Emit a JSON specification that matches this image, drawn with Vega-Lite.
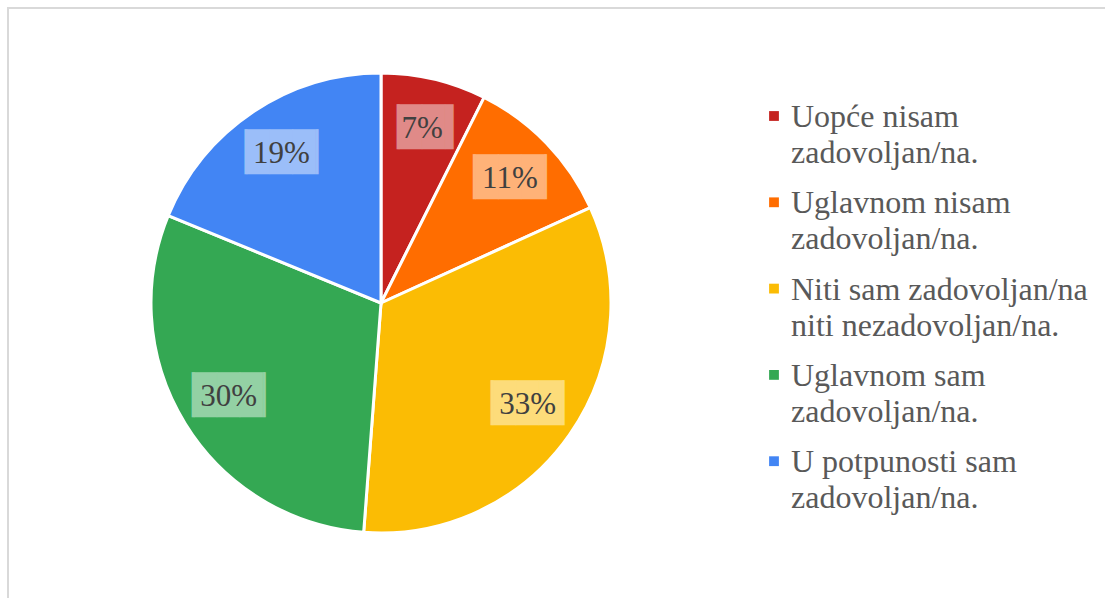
{
  "$schema": "https://vega.github.io/schema/vega-lite/v6.json",
  "width": 746,
  "height": 590,
  "autosize": "none",
  "padding": {"left": 8, "top": 8, "right": 351, "bottom": 1},
  "background": "white",
  "view": {"stroke": "#D9D9D9", "strokeWidth": 2, "strokeDash": [746, 1336, 590]},
  "config": {
    "view": {"stroke": "#D9D9D9", "strokeWidth": 2, "strokeDash": [746, 1336, 590]},
    "legend": {"strokeColor": "#D9D9D9", "strokeWidth": 2, "strokeDash": [600, 5000]},
    "style": {"guide-label": {"lineHeight": 36, "dy": 11}}
  },
  "data": {
    "values": [
      {"category": "Uopće nisam zadovoljan/na.", "share": 0.074},
      {"category": "Uglavnom nisam zadovoljan/na.", "share": 0.108},
      {"category": "Niti sam zadovoljan/na niti nezadovoljan/na.", "share": 0.330},
      {"category": "Uglavnom sam zadovoljan/na.", "share": 0.300},
      {"category": "U potpunosti sam zadovoljan/na.", "share": 0.188}
    ]
  },
  "transform": [{"window": [{"op": "row_number", "as": "rank"}]}],
  "resolve": {"scale": {"color": "independent"}},
  "layer": [
    {
      "mark": {"type": "arc", "outerRadius": 230, "stroke": "white", "strokeWidth": 3},
      "encoding": {
        "theta": {"field": "share", "type": "quantitative", "stack": true},
        "order": {"field": "rank", "type": "quantitative", "sort": "ascending"},
        "color": {
          "field": "category",
          "type": "nominal",
          "sort": ["Uopće nisam zadovoljan/na.", "Uglavnom nisam zadovoljan/na.", "Niti sam zadovoljan/na niti nezadovoljan/na.", "Uglavnom sam zadovoljan/na.", "U potpunosti sam zadovoljan/na."],
          "scale": {
            "domain": ["Uopće nisam zadovoljan/na.", "Uglavnom nisam zadovoljan/na.", "Niti sam zadovoljan/na niti nezadovoljan/na.", "Uglavnom sam zadovoljan/na.", "U potpunosti sam zadovoljan/na."],
            "range": ["#C5221F", "#FF6D00", "#FBBC04", "#34A853", "#4285F4"]
          },
          "legend": {
            "title": null,
            "orient": "none",
            "legendX": 658,
            "legendY": 0,
            "padding": 92,
            "strokeColor": "#D9D9D9",
            "symbolType": "square",
            "symbolSize": 96,
            "symbolStrokeWidth": 0,
            "labelFont": "Liberation Serif",
            "labelFontSize": 32,
            "labelColor": "#595959",
            "labelLimit": 400,
            "labelOffset": 1,
            "labelBaseline": "alphabetic",
            "rowPadding": 17.3,
            "labelExpr": "datum.label == 'Niti sam zadovoljan/na niti nezadovoljan/na.' ? ['Niti sam zadovoljan/na', 'niti nezadovoljan/na.'] : [replace(datum.label, ' zadovoljan/na.', ''), 'zadovoljan/na.']"
          }
        }
      }
    },
    {
      "mark": {"type": "text", "radius": 179, "font": "DejaVu Sans Mono", "fontSize": 38, "align": "center", "baseline": "middle"},
      "encoding": {
        "theta": {"field": "share", "type": "quantitative", "stack": true},
        "order": {"field": "rank", "type": "quantitative", "sort": "ascending"},
        "color": {
          "field": "category",
          "type": "nominal",
          "sort": ["Uopće nisam zadovoljan/na.", "Uglavnom nisam zadovoljan/na.", "Niti sam zadovoljan/na niti nezadovoljan/na.", "Uglavnom sam zadovoljan/na.", "U potpunosti sam zadovoljan/na."],
          "scale": {
            "domain": ["Uopće nisam zadovoljan/na.", "Uglavnom nisam zadovoljan/na.", "Niti sam zadovoljan/na niti nezadovoljan/na.", "Uglavnom sam zadovoljan/na.", "U potpunosti sam zadovoljan/na."],
            "range": ["#E08A88", "#FFB278", "#FDDC7A", "#93D1A4", "#9BBEF9"]
          },
          "legend": null
        },
        "text": {"condition": {"test": "datum.share < 0.1", "value": "▕██▍"}, "value": "▕███▏"}
      }
    },
    {
      "mark": {"type": "text", "radius": 179, "font": "Liberation Serif", "fontSize": 31, "align": "center", "baseline": "middle"},
      "encoding": {
        "theta": {"field": "share", "type": "quantitative", "stack": true},
        "order": {"field": "rank", "type": "quantitative", "sort": "ascending"},
        "color": {
          "field": "category",
          "type": "nominal",
          "sort": ["Uopće nisam zadovoljan/na.", "Uglavnom nisam zadovoljan/na.", "Niti sam zadovoljan/na niti nezadovoljan/na.", "Uglavnom sam zadovoljan/na.", "U potpunosti sam zadovoljan/na."],
          "scale": {
            "domain": ["Uopće nisam zadovoljan/na.", "Uglavnom nisam zadovoljan/na.", "Niti sam zadovoljan/na niti nezadovoljan/na.", "Uglavnom sam zadovoljan/na.", "U potpunosti sam zadovoljan/na."],
            "range": ["#404040", "#404040", "#404040", "#404040", "#404040"]
          },
          "legend": null
        },
        "text": {"field": "share", "type": "quantitative", "format": ".0%"}
      }
    }
  ]
}
